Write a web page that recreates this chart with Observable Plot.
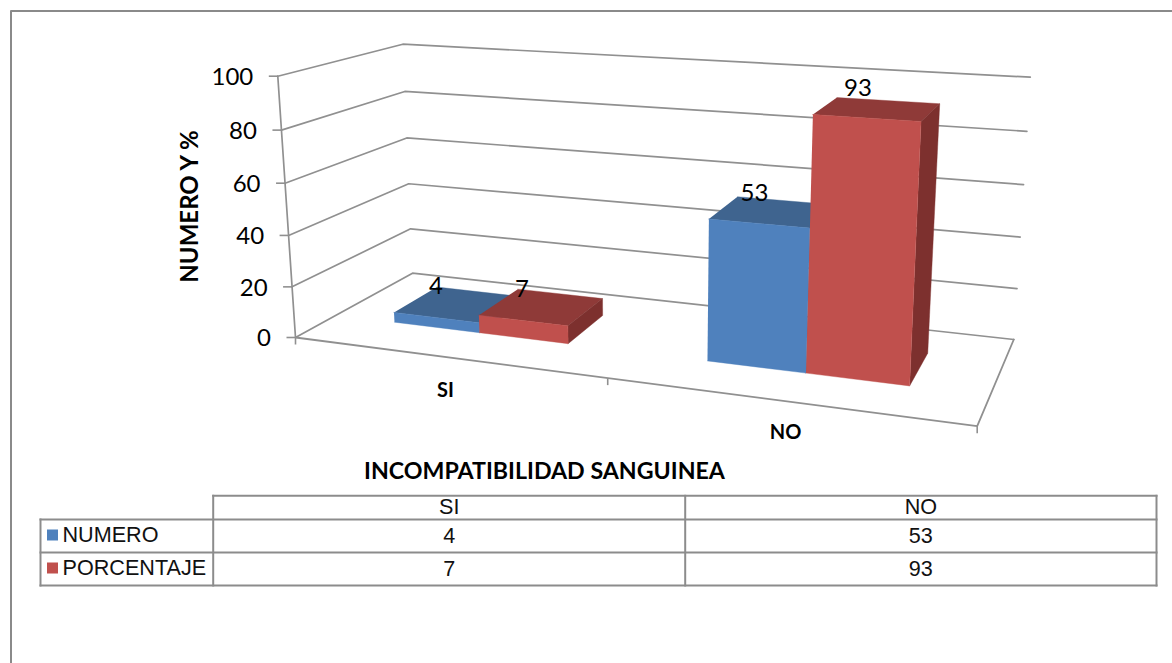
<!DOCTYPE html>
<html lang="es">
<head>
<meta charset="utf-8">
<title>Incompatibilidad sanguínea</title>
<script src="https://cdn.jsdelivr.net/npm/d3@7"></script>
<script src="https://cdn.jsdelivr.net/npm/@observablehq/plot@0.6"></script>
<style>
  html, body { margin: 0; padding: 0; background: #fff; overflow: hidden; }
  svg { display: block; }
</style>
</head>
<body>
<div id="chart"></div>
<script>
// Chart values
const categories = ["SI", "NO"];
const seriesNames = ["NUMERO", "PORCENTAJE"];
const numero = [4, 53];
const porcentaje = [7, 93];
const valueTicks = [0, 20, 40, 60, 80, 100];

const seriesColors = {
  NUMERO: { front: "#4f81bd", top: "#3f648f", side: "#34547a" },
  PORCENTAJE: { front: "#c0504d", top: "#8f3a38", side: "#7d302e" }
};
const gridColor = "#909090";
const lineColor = "#8c8c8c";
const latin = "Lato, sans-serif";
const arial = "'Liberation Sans', Arial, sans-serif";

// Value axis normalised through Plot's own linear scale
const valueScale = Plot.scale({ y: { domain: [0, 100], range: [0, 1] } });
const foreshorten = (t) => t / (1 + 0.04 * (1 - t));

// Oblique view of the chart box: floor corners and the rise of a full-height edge
const floorCorners = {
  frontLeft: [295, 337], backLeft: [412, 272.7],
  backRight: [1013.3, 339], frontRight: [976.7, 425.7]
};
const riseVectors = {
  frontLeft: [-17.7, -261.3], backLeft: [-9.7, -229],
  backRight: [16.5, -262.3], frontRight: [16, -305]
};
function blend(q, c, d) {
  return [0, 1].map((i) =>
    (1 - c) * (1 - d) * q.frontLeft[i] + (1 - c) * d * q.backLeft[i] +
    c * d * q.backRight[i] + c * (1 - d) * q.frontRight[i]);
}
function project(c, d, v) {
  const [bx, by] = blend(floorCorners, c, d);
  const [rx, ry] = blend(riseVectors, c, d);
  const t = foreshorten(valueScale.apply(v));
  return { x: bx + rx * t, y: by + ry * t };
}

// Bar footprints across the box, per category and series
const barSpans = {
  SI: { NUMERO: [0.0888, 0.2188], PORCENTAJE: [0.2188, 0.3545] },
  NO: { NUMERO: [0.5677, 0.7185], PORCENTAJE: [0.7185, 0.877] }
};
const depthFront = 0.35, depthBack = 0.74;

const faces = [];
function addFace(id, color, corners) {
  corners.forEach(([c, d, v]) => faces.push({ id, color, ...project(c, d, v) }));
}
categories.forEach((cat, i) => {
  [["NUMERO", numero[i]], ["PORCENTAJE", porcentaje[i]]].forEach(([name, value]) => {
    const [c0, c1] = barSpans[cat][name];
    const col = seriesColors[name];
    addFace(`${cat}-${name}-top`, col.top, [
      [c0, depthFront, value], [c1, depthFront, value], [c1, depthBack, value], [c0, depthBack, value]]);
    addFace(`${cat}-${name}-side`, col.side, [
      [c1, depthFront, 0], [c1, depthBack, 0], [c1, depthBack, value], [c1, depthFront, value]]);
    addFace(`${cat}-${name}-front`, col.front, [
      [c0, depthFront, 0], [c1, depthFront, 0], [c1, depthFront, value], [c0, depthFront, value]]);
  });
});

// Walls and floor outline
const gridPaths = valueTicks.flatMap((v) =>
  [[0, 0], [0, 1], [1, 1]].map(([c, d]) => ({ v, ...project(c, d, v) })));
const floorEdge = [[0, 0], [1, 0], [1, 1]].map(([c, d]) => project(c, d, 0));
const axisEdge = [0, 100].map((v) => project(0, 0, v));
const valueTickRows = valueTicks.map((v) => ({ v, ...project(0, 0, v) }));
const categoryTicks = [0, 0.458, 1].map((c) => project(c, 0, 0));

// Value labels sit above each bar's rear corner
const labelNudge = {
  SI: { NUMERO: [-1, -1], PORCENTAJE: [4, 0] },
  NO: { NUMERO: [17, -3], PORCENTAJE: [21, -9] }
};
const valueLabels = categories.flatMap((cat, i) =>
  [["NUMERO", numero[i]], ["PORCENTAJE", porcentaje[i]]].map(([name, value]) => {
    const p = project(barSpans[cat][name][0], depthBack, value);
    const [nx, ny] = labelNudge[cat][name];
    return { text: String(value), x: p.x + nx, y: p.y + ny };
  }));

// Data table under the plot
const tableLeft = 40, tableNames = 212.7, tableMid = 684.7, tableRight = 1156;
const tableRows = [495.3, 519, 552, 585];
const columnCenters = [(tableNames + tableMid) / 2, (tableMid + tableRight) / 2];
const rowCenters = [534.5, 567.5];
const tableLines = [
  { x1: tableNames, y1: tableRows[0], x2: tableRight, y2: tableRows[0] },
  { x1: tableLeft, y1: tableRows[1], x2: tableRight, y2: tableRows[1] },
  { x1: tableLeft, y1: tableRows[2], x2: tableRight, y2: tableRows[2] },
  { x1: tableLeft, y1: tableRows[3], x2: tableRight, y2: tableRows[3] },
  { x1: tableLeft, y1: tableRows[1], x2: tableLeft, y2: tableRows[3] },
  { x1: tableNames, y1: tableRows[0], x2: tableNames, y2: tableRows[3] },
  { x1: tableMid, y1: tableRows[0], x2: tableMid, y2: tableRows[3] },
  { x1: tableRight, y1: tableRows[0], x2: tableRight, y2: tableRows[3] }
];
const headerCells = categories.map((t, i) => ({ t, x: columnCenters[i], y: 506.5 }));
const valueCells = [numero, porcentaje].flatMap((vals, r) =>
  vals.map((t, i) => ({ t: String(t), x: columnCenters[i], y: rowCenters[r] + 1 })));
const rowNames = seriesNames.map((t, r) => ({ t, x: 62, y: rowCenters[r] }));
const legendKeys = seriesNames.map((t, r) => ({
  x1: 47, x2: 58, y1: rowCenters[r] - 5, y2: rowCenters[r] + 6, color: seriesColors[t].front
}));

const chart = Plot.plot({
  width: 1172,
  height: 663,
  margin: 0,
  style: { background: "#fff" },
  x: { domain: [0, 1172], range: [0, 1172], axis: null },
  y: { domain: [0, 663], range: [0, 663], axis: null },
  color: { type: "identity" },
  marks: [
    // Outer frame
    Plot.line([{ x: 10.5, y: 663 }, { x: 10.5, y: 10.5 }, { x: 1172, y: 10.5 }], {
      x: "x", y: "y", stroke: "#8a8a8a", strokeWidth: 2
    }),

    // Gridlines, floor, value axis and its ticks
    Plot.line(gridPaths, { x: "x", y: "y", z: "v", stroke: gridColor, strokeWidth: 1.7 }),
    Plot.line(floorEdge, { x: "x", y: "y", stroke: gridColor, strokeWidth: 1.8 }),
    Plot.line(axisEdge, { x: "x", y: "y", stroke: gridColor, strokeWidth: 1.7 }),
    Plot.link(valueTickRows, {
      x1: (d) => d.x - 9, y1: "y", x2: "x", y2: "y", stroke: gridColor, strokeWidth: 1.6
    }),
    Plot.link(categoryTicks, {
      x1: "x", y1: "y", x2: "x", y2: (d) => d.y + 7, stroke: gridColor, strokeWidth: 1.6
    }),

    // Bars as filled faces
    Plot.line(faces, {
      x: "x", y: "y", z: "id", fill: "color", stroke: "color", strokeWidth: 0.4
    }),

    // Labels
    Plot.text(valueTickRows, {
      x: (d) => d.x - 24.5, y: (d) => d.y + 1, text: (d) => String(d.v), textAnchor: "end",
      fontFamily: latin, fontSize: 24, fill: "#000"
    }),
    Plot.text(valueLabels, {
      x: "x", y: "y", text: "text", fontFamily: latin, fontSize: 24, fill: "#000"
    }),
    Plot.text(["NUMERO Y %"], {
      x: () => 190, y: () => 206, text: (d) => d, rotate: -90,
      fontFamily: latin, fontWeight: "bold", fontSize: 24, fill: "#000"
    }),
    Plot.text(["INCOMPATIBILIDAD SANGUINEA"], {
      x: () => 544, y: () => 471, text: (d) => d,
      fontFamily: latin, fontWeight: "bold", fontSize: 23.2, fill: "#000"
    }),
    Plot.text(categories, {
      x: (d) => (d === "SI" ? 445 : 785), y: (d) => (d === "SI" ? 390 : 432), text: (d) => d,
      fontFamily: latin, fontWeight: "bold", fontSize: 20, fill: "#000"
    }),

    // Data table
    Plot.link(tableLines, {
      x1: "x1", y1: "y1", x2: "x2", y2: "y2", stroke: lineColor, strokeWidth: 2, strokeLinecap: "square"
    }),
    Plot.rect(legendKeys, { x1: "x1", x2: "x2", y1: "y1", y2: "y2", fill: "color" }),
    Plot.text(rowNames, {
      x: "x", y: "y", text: "t", textAnchor: "start",
      fontFamily: arial, fontSize: 21.6, fill: "#111"
    }),
    Plot.text(headerCells.concat(valueCells), {
      x: "x", y: "y", text: "t", fontFamily: arial, fontSize: 21.6, fill: "#111"
    })
  ]
});
document.getElementById("chart").append(chart);
</script>
</body>
</html>
